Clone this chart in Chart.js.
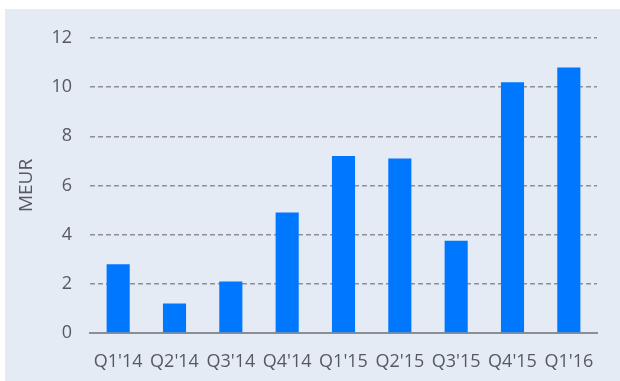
<!DOCTYPE html>
<html>
<head>
<meta charset="utf-8">
<script src="https://cdn.jsdelivr.net/npm/chart.js@4"></script>
<style>
  html, body { margin: 0; padding: 0; background: #ffffff; }
  #wrap {
    position: absolute; left: 5px; top: 9px;
    width: 615px; height: 372px;
    background: #e4ebf5;
  }
</style>
</head>
<body>
<div id="wrap"><canvas id="revChart" width="615" height="372"></canvas></div>
<script>
const quarters = ["Q1'14", "Q2'14", "Q3'14", "Q4'14", "Q1'15", "Q2'15", "Q3'15", "Q4'15", "Q1'16"];
const revenue = [2.8, 1.2, 2.1, 4.9, 7.2, 7.1, 3.75, 10.2, 10.8];
const yTicks = [0, 2, 4, 6, 8, 10, 12];

const ctx = document.getElementById("revChart").getContext("2d");
const labelFont = { family: "'Open Sans', sans-serif", size: 18 };

new Chart(ctx, {
  type: "bar",
  data: {
    labels: quarters,
    datasets: [
      {
        data: revenue,
        backgroundColor: "#0077ff",
        borderWidth: 0,
        categoryPercentage: 1,
        barPercentage: 0.41,
      },
    ],
  },
  options: {
    responsive: false,
    animation: false,
    layout: { padding: { top: 29, right: 23, left: 0, bottom: 0 } },
    plugins: { legend: { display: false }, tooltip: { enabled: false } },
    scales: {
      x: {
        grid: { display: false },
        border: { display: true, color: "#8a8f96", width: 2 },
        ticks: { color: "#555a61", font: labelFont, padding: 10, maxRotation: 0 },
        afterFit: (scale) => { scale.height = 48; },
      },
      y: {
        min: 0,
        max: 12,
        afterBuildTicks: (scale) => {
          scale.ticks = yTicks.map((v) => ({ value: v }));
        },
        grid: { color: "#8c9199", lineWidth: 1.5, drawTicks: false },
        border: { display: false, dash: [5, 3] },
        ticks: { color: "#555a61", font: labelFont, padding: 18 },
        title: {
          display: true,
          text: "MEUR",
          color: "#555a61",
          font: { family: "'Open Sans', sans-serif", size: 19 },
          padding: { top: 10, bottom: 0 },
        },
        afterFit: (scale) => { scale.width = 85; },
      },
    },
  },
});
</script>
</body>
</html>
